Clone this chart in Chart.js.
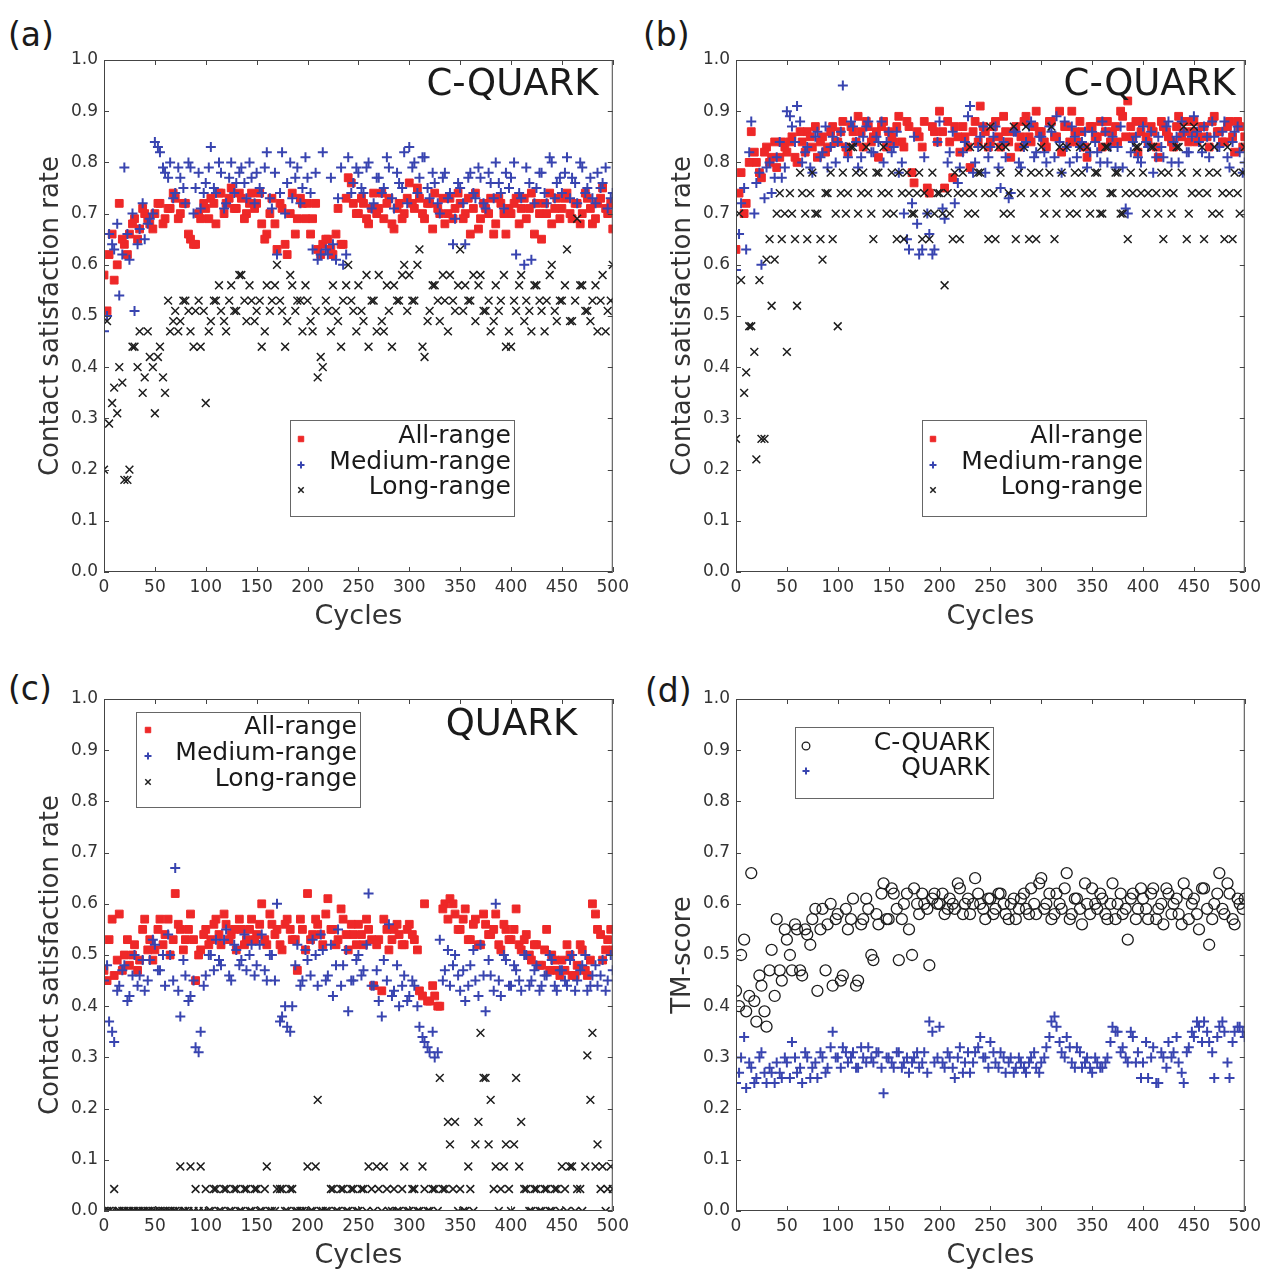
<!DOCTYPE html>
<html>
<head>
<meta charset="utf-8">
<script src="https://cdn.jsdelivr.net/npm/chart.js@4.4.0/dist/chart.umd.min.js"></script>
<style>
  body { margin: 0; background: #fff; width: 1269px; height: 1270px; overflow: hidden; position: relative; font-family: "DejaVu Sans", sans-serif; }
  canvas { position: absolute; }
  .tag { position: absolute; font-size: 33px; line-height: 33px; color: #1a1a1a; }
</style>
</head>
<body>
<div class="tag" style="left:8px;top:18px">(a)</div>
<div class="tag" style="left:643px;top:18px">(b)</div>
<div class="tag" style="left:8px;top:672px">(c)</div>
<div class="tag" style="left:645px;top:674px">(d)</div>
<canvas id="chartA" width="634" height="639" style="left:0;top:0"></canvas>
<canvas id="chartB" width="634" height="639" style="left:632px;top:0"></canvas>
<canvas id="chartC" width="634" height="639" style="left:0;top:639px"></canvas>
<canvas id="chartD" width="634" height="639" style="left:632px;top:639px"></canvas>
<script>
// sampled cycles (x values): main samples and in-between samples
const cycles = [0, 5, 10, 15, 20, 25, 30, 35, 40, 45,
  50, 55, 60, 65, 70, 75, 80, 85, 90, 95,
  100, 105, 110, 115, 120, 125, 130, 135, 140, 145,
  150, 155, 160, 165, 170, 175, 180, 185, 190, 195,
  200, 205, 210, 215, 220, 225, 230, 235, 240, 245,
  250, 255, 260, 265, 270, 275, 280, 285, 290, 295,
  300, 305, 310, 315, 320, 325, 330, 335, 340, 345,
  350, 355, 360, 365, 370, 375, 380, 385, 390, 395,
  400, 405, 410, 415, 420, 425, 430, 435, 440, 445,
  450, 455, 460, 465, 470, 475, 480, 485, 490, 495, 500];
const cyclesMid = [3, 8, 13, 18, 23, 28, 33, 38, 43, 48,
  53, 58, 63, 68, 73, 78, 83, 88, 93, 98,
  103, 108, 113, 118, 123, 128, 133, 138, 143, 148,
  153, 158, 163, 168, 173, 178, 183, 188, 193, 198,
  203, 208, 213, 218, 223, 228, 233, 238, 243, 248,
  253, 258, 263, 268, 273, 278, 283, 288, 293, 298,
  303, 308, 313, 318, 323, 328, 333, 338, 343, 348,
  353, 358, 363, 368, 373, 378, 383, 388, 393, 398,
  403, 408, 413, 418, 423, 428, 433, 438, 443, 448,
  453, 458, 463, 468, 473, 478, 483, 488, 493, 498];

const cycleTicks = [0, 50, 100, 150, 200, 250, 300, 350, 400, 450, 500];
const rateTicks = [0.0, 0.1, 0.2, 0.3, 0.4, 0.5, 0.6, 0.7, 0.8, 0.9, 1.0];

// (a) C-QUARK
const allRangeA = [0.58, 0.62, 0.57, 0.72, 0.64, 0.66, 0.69, 0.67, 0.70, 0.68,
  0.70, 0.72, 0.69, 0.71, 0.73, 0.70, 0.72, 0.65, 0.64, 0.69,
  0.71, 0.73, 0.68, 0.74, 0.72, 0.75, 0.71, 0.73, 0.70, 0.74,
  0.72, 0.68, 0.66, 0.73, 0.63, 0.71, 0.62, 0.74, 0.69, 0.72,
  0.72, 0.69, 0.63, 0.64, 0.65, 0.62, 0.71, 0.64, 0.77, 0.72,
  0.70, 0.72, 0.68, 0.74, 0.71, 0.69, 0.73, 0.67, 0.72, 0.70,
  0.76, 0.71, 0.73, 0.69, 0.72, 0.74, 0.70, 0.68, 0.73, 0.71,
  0.72, 0.70, 0.66, 0.74, 0.69, 0.71, 0.73, 0.68, 0.72, 0.66,
  0.70, 0.73, 0.71, 0.69, 0.74, 0.72, 0.65, 0.70, 0.68, 0.73,
  0.71, 0.74, 0.69, 0.72, 0.70, 0.73, 0.68, 0.72, 0.75, 0.70, 0.67];
const allRangeAMid = [0.51, 0.66, 0.60, 0.65, 0.62, 0.68, 0.65, 0.71, 0.69, 0.67,
  0.72, 0.68, 0.71, 0.74, 0.69, 0.72, 0.66, 0.64, 0.70, 0.72,
  0.69, 0.72, 0.74, 0.70, 0.73, 0.71, 0.74, 0.69, 0.72, 0.71,
  0.74, 0.65, 0.70, 0.68, 0.72, 0.64, 0.70, 0.66, 0.73, 0.69,
  0.66, 0.72, 0.62, 0.65, 0.63, 0.66, 0.64, 0.73, 0.76, 0.70,
  0.73, 0.69, 0.71, 0.70, 0.74, 0.72, 0.68, 0.71, 0.69, 0.73,
  0.72, 0.75, 0.70, 0.72, 0.67, 0.71, 0.73, 0.70, 0.69, 0.74,
  0.69, 0.73, 0.71, 0.67, 0.72, 0.70, 0.66, 0.73, 0.70, 0.71,
  0.72, 0.68, 0.73, 0.71, 0.66, 0.70, 0.72, 0.74, 0.71, 0.69,
  0.73, 0.70, 0.72, 0.68, 0.74, 0.71, 0.69, 0.73, 0.71, 0.72];
const mediumRangeA = [0.47, 0.66, 0.63, 0.54, 0.79, 0.61, 0.51, 0.67, 0.65, 0.69,
  0.84, 0.82, 0.78, 0.80, 0.74, 0.77, 0.72, 0.79, 0.75, 0.71,
  0.76, 0.83, 0.74, 0.78, 0.72, 0.80, 0.76, 0.79, 0.73, 0.77,
  0.78, 0.74, 0.82, 0.71, 0.62, 0.82, 0.76, 0.73, 0.79, 0.75,
  0.77, 0.63, 0.61, 0.82, 0.62, 0.64, 0.73, 0.60, 0.81, 0.76,
  0.78, 0.74, 0.80, 0.72, 0.77, 0.75, 0.79, 0.71, 0.76, 0.82,
  0.83, 0.80, 0.77, 0.81, 0.73, 0.76, 0.70, 0.78, 0.74, 0.69,
  0.75, 0.64, 0.78, 0.73, 0.77, 0.71, 0.76, 0.80, 0.74, 0.78,
  0.77, 0.62, 0.73, 0.79, 0.61, 0.75, 0.78, 0.72, 0.80, 0.76,
  0.74, 0.81, 0.77, 0.72, 0.79, 0.75, 0.73, 0.78, 0.76, 0.71, 0.74];
const mediumRangeAMid = [0.50, 0.64, 0.68, 0.62, 0.66, 0.70, 0.64, 0.72, 0.68, 0.70,
  0.83, 0.79, 0.77, 0.73, 0.79, 0.75, 0.80, 0.70, 0.78, 0.74,
  0.79, 0.75, 0.80, 0.71, 0.77, 0.74, 0.78, 0.76, 0.80, 0.72,
  0.75, 0.79, 0.73, 0.78, 0.74, 0.70, 0.80, 0.77, 0.72, 0.81,
  0.74, 0.78, 0.62, 0.63, 0.77, 0.61, 0.79, 0.62, 0.74, 0.79,
  0.75, 0.79, 0.71, 0.77, 0.74, 0.81, 0.73, 0.78, 0.75, 0.72,
  0.79, 0.74, 0.81, 0.75, 0.78, 0.72, 0.77, 0.73, 0.64, 0.76,
  0.72, 0.77, 0.74, 0.79, 0.72, 0.78, 0.73, 0.76, 0.71, 0.75,
  0.80, 0.74, 0.60, 0.76, 0.72, 0.78, 0.74, 0.81, 0.73, 0.77,
  0.78, 0.73, 0.76, 0.80, 0.74, 0.77, 0.72, 0.75, 0.79, 0.73];
const longRangeA = [0.20, 0.29, 0.36, 0.40, 0.18, 0.20, 0.44, 0.47, 0.38, 0.42,
  0.31, 0.44, 0.35, 0.47, 0.51, 0.49, 0.53, 0.47, 0.51, 0.44,
  0.33, 0.49, 0.53, 0.51, 0.47, 0.56, 0.51, 0.58, 0.49, 0.53,
  0.51, 0.44, 0.56, 0.53, 0.60, 0.51, 0.49, 0.56, 0.53, 0.47,
  0.53, 0.47, 0.38, 0.40, 0.51, 0.56, 0.49, 0.53, 0.60, 0.51,
  0.56, 0.49, 0.44, 0.53, 0.58, 0.47, 0.51, 0.56, 0.53, 0.60,
  0.58, 0.53, 0.63, 0.42, 0.51, 0.56, 0.49, 0.53, 0.58, 0.51,
  0.63, 0.56, 0.53, 0.49, 0.58, 0.51, 0.47, 0.56, 0.53, 0.44,
  0.44, 0.51, 0.58, 0.53, 0.47, 0.56, 0.51, 0.53, 0.60, 0.49,
  0.53, 0.63, 0.49, 0.69, 0.56, 0.51, 0.53, 0.47, 0.58, 0.51, 0.60];
const longRangeAMid = [0.49, 0.33, 0.31, 0.37, 0.18, 0.44, 0.40, 0.35, 0.47, 0.40,
  0.42, 0.38, 0.53, 0.49, 0.47, 0.53, 0.51, 0.44, 0.53, 0.51,
  0.47, 0.53, 0.56, 0.49, 0.53, 0.51, 0.58, 0.53, 0.56, 0.49,
  0.53, 0.47, 0.51, 0.56, 0.53, 0.44, 0.58, 0.51, 0.53, 0.56,
  0.49, 0.51, 0.42, 0.53, 0.47, 0.51, 0.44, 0.56, 0.53, 0.47,
  0.51, 0.58, 0.53, 0.47, 0.49, 0.56, 0.44, 0.53, 0.58, 0.51,
  0.53, 0.60, 0.44, 0.49, 0.56, 0.53, 0.58, 0.47, 0.53, 0.56,
  0.51, 0.53, 0.58, 0.56, 0.51, 0.53, 0.49, 0.51, 0.58, 0.47,
  0.53, 0.56, 0.49, 0.51, 0.56, 0.53, 0.47, 0.58, 0.51, 0.53,
  0.56, 0.49, 0.53, 0.56, 0.51, 0.49, 0.56, 0.53, 0.47, 0.53];

// (b) C-QUARK
const allRangeB = [0.63, 0.78, 0.72, 0.86, 0.80, 0.77, 0.83, 0.81, 0.79, 0.84,
  0.82, 0.85, 0.80, 0.84, 0.86, 0.83, 0.81, 0.85, 0.83, 0.87,
  0.84, 0.88, 0.82, 0.86, 0.89, 0.83, 0.87, 0.85, 0.81, 0.88,
  0.86, 0.84, 0.89, 0.83, 0.87, 0.76, 0.85, 0.88, 0.74, 0.86,
  0.90, 0.75, 0.84, 0.87, 0.82, 0.85, 0.79, 0.88, 0.91, 0.86,
  0.84, 0.88, 0.83, 0.86, 0.81, 0.87, 0.85, 0.89, 0.84, 0.90,
  0.86, 0.83, 0.88, 0.85, 0.82, 0.87, 0.90, 0.84, 0.86, 0.81,
  0.87, 0.85, 0.83, 0.88, 0.86, 0.84, 0.89, 0.92, 0.85, 0.82,
  0.88, 0.84, 0.86, 0.81, 0.87, 0.85, 0.83, 0.89, 0.86, 0.84,
  0.88, 0.85, 0.87, 0.83, 0.89, 0.86, 0.84, 0.88, 0.82, 0.87, 0.85];
const allRangeBMid = [0.74, 0.70, 0.80, 0.82, 0.78, 0.82, 0.80, 0.84, 0.81, 0.83,
  0.84, 0.81, 0.86, 0.82, 0.85, 0.87, 0.84, 0.82, 0.86, 0.84,
  0.86, 0.83, 0.87, 0.84, 0.86, 0.88, 0.84, 0.86, 0.87, 0.83,
  0.85, 0.87, 0.84, 0.88, 0.78, 0.86, 0.83, 0.75, 0.87, 0.84,
  0.86, 0.88, 0.77, 0.85, 0.87, 0.83, 0.86, 0.84, 0.87, 0.83,
  0.87, 0.85, 0.89, 0.84, 0.86, 0.83, 0.88, 0.85, 0.87, 0.86,
  0.84, 0.88, 0.85, 0.90, 0.87, 0.84, 0.86, 0.88, 0.83, 0.87,
  0.85, 0.88, 0.86, 0.84, 0.87, 0.90, 0.85, 0.87, 0.88, 0.86,
  0.85, 0.87, 0.83, 0.88, 0.86, 0.84, 0.87, 0.85, 0.88, 0.86,
  0.84, 0.87, 0.85, 0.88, 0.86, 0.84, 0.87, 0.85, 0.88, 0.83];
const mediumRangeB = [0.59, 0.72, 0.63, 0.88, 0.76, 0.60, 0.79, 0.74, 0.81, 0.77,
  0.90, 0.87, 0.91, 0.80, 0.83, 0.78, 0.86, 0.82, 0.79, 0.85,
  0.84, 0.95, 0.81, 0.87, 0.79, 0.85, 0.88, 0.82, 0.84, 0.80,
  0.86, 0.83, 0.78, 0.70, 0.63, 0.85, 0.62, 0.81, 0.66, 0.63,
  0.88, 0.69, 0.82, 0.72, 0.79, 0.84, 0.91, 0.80, 0.85, 0.78,
  0.83, 0.87, 0.75, 0.81, 0.74, 0.86, 0.79, 0.84, 0.88, 0.82,
  0.85, 0.80, 0.86, 0.89, 0.78, 0.83, 0.87, 0.81, 0.84, 0.79,
  0.86, 0.82, 0.88, 0.80, 0.85, 0.83, 0.79, 0.70, 0.84, 0.81,
  0.87, 0.83, 0.78, 0.85, 0.81, 0.88, 0.84, 0.80, 0.86, 0.82,
  0.89, 0.84, 0.87, 0.81, 0.85, 0.83, 0.88, 0.79, 0.86, 0.82, 0.80];
const mediumRangeBMid = [0.66, 0.75, 0.82, 0.70, 0.78, 0.73, 0.80, 0.77, 0.84, 0.79,
  0.89, 0.84, 0.88, 0.82, 0.79, 0.85, 0.81, 0.87, 0.83, 0.80,
  0.86, 0.83, 0.88, 0.84, 0.81, 0.87, 0.82, 0.85, 0.88, 0.84,
  0.82, 0.86, 0.80, 0.65, 0.72, 0.68, 0.63, 0.70, 0.62, 0.84,
  0.71, 0.80, 0.86, 0.76, 0.82, 0.89, 0.78, 0.83, 0.87, 0.81,
  0.85, 0.79, 0.84, 0.73, 0.86, 0.80, 0.83, 0.87, 0.81, 0.85,
  0.82, 0.87, 0.81, 0.84, 0.88, 0.80, 0.85, 0.83, 0.86, 0.82,
  0.84, 0.80, 0.86, 0.83, 0.79, 0.87, 0.71, 0.82, 0.85, 0.80,
  0.84, 0.86, 0.81, 0.83, 0.87, 0.80, 0.85, 0.88, 0.82, 0.85,
  0.86, 0.82, 0.85, 0.88, 0.83, 0.86, 0.81, 0.84, 0.87, 0.78];
const longRangeB = [0.26, 0.57, 0.39, 0.48, 0.22, 0.26, 0.61, 0.52, 0.70, 0.65,
  0.43, 0.70, 0.52, 0.74, 0.65, 0.78, 0.70, 0.61, 0.74, 0.65,
  0.48, 0.78, 0.74, 0.83, 0.70, 0.78, 0.74, 0.65, 0.78, 0.83,
  0.74, 0.70, 0.78, 0.65, 0.74, 0.70, 0.78, 0.74, 0.65, 0.70,
  0.74, 0.56, 0.70, 0.78, 0.65, 0.74, 0.83, 0.70, 0.78, 0.74,
  0.87, 0.65, 0.78, 0.83, 0.70, 0.65, 0.74, 0.87, 0.78, 0.65,
  0.83, 0.74, 0.87, 0.70, 0.78, 0.83, 0.74, 0.70, 0.78, 0.83,
  0.74, 0.78, 0.70, 0.83, 0.74, 0.78, 0.70, 0.65, 0.74, 0.83,
  0.78, 0.74, 0.83, 0.70, 0.65, 0.78, 0.74, 0.83, 0.87, 0.70,
  0.87, 0.74, 0.65, 0.78, 0.83, 0.70, 0.65, 0.74, 0.78, 0.70, 0.83];
const longRangeBMid = [0.70, 0.35, 0.48, 0.43, 0.57, 0.26, 0.65, 0.61, 0.74, 0.70,
  0.74, 0.65, 0.78, 0.70, 0.74, 0.70, 0.65, 0.74, 0.78, 0.70,
  0.74, 0.70, 0.83, 0.78, 0.74, 0.83, 0.70, 0.78, 0.74, 0.70,
  0.78, 0.65, 0.74, 0.78, 0.70, 0.74, 0.65, 0.70, 0.78, 0.74,
  0.70, 0.74, 0.65, 0.74, 0.78, 0.70, 0.74, 0.78, 0.83, 0.65,
  0.74, 0.83, 0.70, 0.74, 0.87, 0.78, 0.83, 0.65, 0.74, 0.78,
  0.70, 0.78, 0.65, 0.83, 0.74, 0.70, 0.78, 0.83, 0.74, 0.70,
  0.78, 0.70, 0.83, 0.74, 0.78, 0.70, 0.74, 0.78, 0.83, 0.74,
  0.70, 0.83, 0.74, 0.78, 0.74, 0.70, 0.83, 0.78, 0.65, 0.74,
  0.78, 0.83, 0.74, 0.70, 0.78, 0.74, 0.83, 0.65, 0.74, 0.78];

// (c) QUARK
const allRangeC = [0.47, 0.53, 0.46, 0.58, 0.50, 0.48, 0.52, 0.49, 0.57, 0.53,
  0.51, 0.57, 0.54, 0.50, 0.62, 0.55, 0.53, 0.58, 0.45, 0.51,
  0.55, 0.53, 0.57, 0.52, 0.56, 0.54, 0.51, 0.55, 0.53, 0.57,
  0.54, 0.60, 0.52, 0.56, 0.55, 0.51, 0.57, 0.53, 0.47, 0.55,
  0.62, 0.54, 0.56, 0.52, 0.61, 0.55, 0.53, 0.57, 0.51, 0.54,
  0.56, 0.52, 0.55, 0.44, 0.53, 0.57, 0.51, 0.55, 0.54, 0.52,
  0.56, 0.53, 0.43, 0.60, 0.41, 0.42, 0.40, 0.60, 0.61, 0.58,
  0.55, 0.59, 0.53, 0.57, 0.52, 0.56, 0.54, 0.58, 0.51, 0.55,
  0.53, 0.59, 0.51, 0.54, 0.49, 0.52, 0.48, 0.55, 0.50, 0.47,
  0.49, 0.52, 0.46, 0.48, 0.51, 0.46, 0.60, 0.55, 0.49, 0.53, 0.51];
const allRangeCMid = [0.45, 0.57, 0.49, 0.47, 0.53, 0.50, 0.47, 0.55, 0.51, 0.49,
  0.55, 0.52, 0.57, 0.53, 0.56, 0.51, 0.55, 0.53, 0.50, 0.54,
  0.52, 0.56, 0.54, 0.58, 0.53, 0.55, 0.57, 0.52, 0.55, 0.53,
  0.56, 0.53, 0.58, 0.54, 0.52, 0.56, 0.55, 0.53, 0.57, 0.51,
  0.53, 0.57, 0.54, 0.58, 0.55, 0.52, 0.59, 0.54, 0.56, 0.52,
  0.54, 0.57, 0.53, 0.52, 0.43, 0.55, 0.53, 0.56, 0.52, 0.55,
  0.54, 0.51, 0.42, 0.41, 0.44, 0.40, 0.59, 0.57, 0.60, 0.55,
  0.57, 0.53, 0.56, 0.52, 0.58, 0.54, 0.55, 0.52, 0.56, 0.53,
  0.55, 0.52, 0.53, 0.50, 0.52, 0.48, 0.51, 0.47, 0.49, 0.46,
  0.47, 0.50, 0.46, 0.52, 0.47, 0.49, 0.58, 0.54, 0.51, 0.55];
const mediumRangeC = [0.45, 0.37, 0.33, 0.44, 0.48, 0.42, 0.50, 0.46, 0.43, 0.49,
  0.52, 0.47, 0.44, 0.50, 0.67, 0.38, 0.46, 0.42, 0.32, 0.35,
  0.46, 0.50, 0.53, 0.48, 0.55, 0.45, 0.51, 0.49, 0.47, 0.52,
  0.48, 0.54, 0.45, 0.50, 0.60, 0.38, 0.36, 0.40, 0.52, 0.45,
  0.49, 0.53, 0.44, 0.51, 0.46, 0.42, 0.55, 0.48, 0.39, 0.45,
  0.50, 0.47, 0.62, 0.44, 0.41, 0.49, 0.56, 0.43, 0.40, 0.46,
  0.42, 0.44, 0.36, 0.33, 0.31, 0.30, 0.53, 0.47, 0.44, 0.50,
  0.43, 0.41, 0.48, 0.45, 0.52, 0.39, 0.46, 0.60, 0.42, 0.49,
  0.44, 0.47, 0.43, 0.50, 0.45, 0.48, 0.44, 0.46, 0.49, 0.43,
  0.47, 0.44, 0.50, 0.45, 0.48, 0.43, 0.46, 0.44, 0.49, 0.45, 0.47];
const mediumRangeCMid = [0.48, 0.35, 0.43, 0.47, 0.41, 0.46, 0.44, 0.49, 0.45, 0.53,
  0.47, 0.50, 0.54, 0.45, 0.43, 0.49, 0.41, 0.45, 0.31, 0.44,
  0.50, 0.47, 0.49, 0.53, 0.46, 0.52, 0.48, 0.54, 0.50, 0.46,
  0.52, 0.47, 0.50, 0.45, 0.37, 0.40, 0.35, 0.48, 0.44, 0.51,
  0.46, 0.50, 0.54, 0.45, 0.52, 0.48, 0.44, 0.51, 0.45, 0.49,
  0.46, 0.52, 0.44, 0.47, 0.38, 0.45, 0.42, 0.48, 0.44, 0.41,
  0.45, 0.40, 0.34, 0.32, 0.35, 0.31, 0.45, 0.51, 0.48, 0.46,
  0.47, 0.44, 0.51, 0.42, 0.46, 0.49, 0.43, 0.45, 0.50, 0.44,
  0.48, 0.45, 0.50, 0.44, 0.47, 0.43, 0.46, 0.50, 0.44, 0.47,
  0.45, 0.49, 0.43, 0.47, 0.50, 0.44, 0.48, 0.46, 0.43, 0.50];
const longRangeC = [0, 0, 0.043, 0, 0, 0, 0, 0, 0, 0,
  0, 0, 0, 0, 0, 0.087, 0, 0.087, 0.043, 0.087,
  0.043, 0, 0.043, 0, 0.043, 0, 0.043, 0, 0.043, 0,
  0.043, 0, 0.087, 0, 0.043, 0.043, 0, 0.043, 0, 0,
  0.087, 0, 0.217, 0, 0, 0.043, 0, 0.043, 0, 0.043,
  0, 0.043, 0.087, 0, 0.043, 0.087, 0, 0.043, 0, 0.087,
  0, 0.043, 0, 0.043, 0, 0.043, 0.26, 0.043, 0.13, 0.174,
  0.043, 0, 0.043, 0.13, 0.348, 0.26, 0.217, 0.087, 0.043, 0.13,
  0, 0.26, 0.174, 0.043, 0, 0.043, 0, 0.043, 0, 0.043,
  0.087, 0, 0.087, 0.043, 0, 0.304, 0.348, 0.13, 0.087, 0.043, 0.043];
const longRangeCMid = [0, 0, 0, 0, 0, 0, 0, 0, 0, 0,
  0, 0, 0, 0, 0, 0, 0, 0, 0, 0,
  0, 0.043, 0, 0.043, 0, 0.043, 0, 0.043, 0, 0.043,
  0, 0.043, 0, 0, 0.043, 0, 0.043, 0, 0, 0,
  0, 0.087, 0, 0, 0.043, 0, 0.043, 0, 0.043, 0,
  0.043, 0, 0.043, 0.087, 0, 0.043, 0, 0, 0.043, 0,
  0.043, 0, 0.087, 0, 0.043, 0, 0.043, 0.174, 0.043, 0,
  0, 0.087, 0, 0.174, 0.26, 0.13, 0.043, 0, 0.087, 0.043,
  0.13, 0.087, 0.043, 0, 0.043, 0, 0.043, 0, 0.043, 0,
  0.043, 0.087, 0, 0.043, 0.087, 0.217, 0.087, 0.043, 0, 0.087];

// (d) TM-score
const tmCQuark = [0.43, 0.50, 0.39, 0.66, 0.37, 0.44, 0.36, 0.51, 0.57, 0.45,
  0.53, 0.47, 0.55, 0.46, 0.54, 0.57, 0.43, 0.59, 0.56, 0.44,
  0.58, 0.46, 0.55, 0.61, 0.45, 0.57, 0.59, 0.49, 0.56, 0.64,
  0.57, 0.62, 0.49, 0.60, 0.55, 0.63, 0.58, 0.60, 0.48, 0.62,
  0.60, 0.58, 0.61, 0.59, 0.63, 0.60, 0.58, 0.65, 0.60, 0.57,
  0.61, 0.59, 0.62, 0.58, 0.60, 0.57, 0.61, 0.59, 0.63, 0.58,
  0.65, 0.60, 0.57, 0.62, 0.59, 0.66, 0.58, 0.61, 0.56, 0.60,
  0.63, 0.59, 0.61, 0.57, 0.64, 0.60, 0.58, 0.53, 0.62, 0.59,
  0.61, 0.57, 0.63, 0.59, 0.56, 0.62, 0.60, 0.58, 0.64, 0.57,
  0.61, 0.55, 0.63, 0.52, 0.60, 0.66, 0.58, 0.62, 0.56, 0.60, 0.61];
const tmCQuarkMid = [0.40, 0.53, 0.42, 0.41, 0.46, 0.39, 0.47, 0.42, 0.47, 0.55,
  0.50, 0.56, 0.47, 0.55, 0.52, 0.59, 0.55, 0.47, 0.60, 0.57,
  0.45, 0.59, 0.57, 0.44, 0.56, 0.61, 0.50, 0.58, 0.62, 0.57,
  0.63, 0.59, 0.57, 0.62, 0.50, 0.60, 0.62, 0.59, 0.61, 0.60,
  0.62, 0.59, 0.60, 0.64, 0.58, 0.61, 0.60, 0.62, 0.59, 0.61,
  0.58, 0.62, 0.60, 0.57, 0.61, 0.59, 0.62, 0.58, 0.60, 0.64,
  0.59, 0.62, 0.58, 0.60, 0.63, 0.57, 0.61, 0.59, 0.64, 0.58,
  0.60, 0.62, 0.58, 0.60, 0.57, 0.62, 0.59, 0.61, 0.57, 0.63,
  0.59, 0.62, 0.57, 0.60, 0.63, 0.58, 0.61, 0.56, 0.62, 0.60,
  0.58, 0.63, 0.59, 0.57, 0.62, 0.59, 0.64, 0.57, 0.61, 0.59];
const tmQuark = [0.25, 0.30, 0.24, 0.28, 0.26, 0.31, 0.25, 0.27, 0.29, 0.26,
  0.29, 0.33, 0.27, 0.25, 0.30, 0.28, 0.26, 0.30, 0.28, 0.35,
  0.30, 0.32, 0.29, 0.31, 0.28, 0.30, 0.32, 0.29, 0.31, 0.23,
  0.30, 0.28, 0.31, 0.29, 0.27, 0.30, 0.28, 0.31, 0.37, 0.29,
  0.36, 0.28, 0.30, 0.26, 0.32, 0.29, 0.27, 0.31, 0.34, 0.30,
  0.33, 0.29, 0.31, 0.27, 0.30, 0.28, 0.29, 0.27, 0.30, 0.28,
  0.29, 0.32, 0.37, 0.36, 0.31, 0.34, 0.29, 0.32, 0.28, 0.30,
  0.27, 0.29, 0.28, 0.30, 0.36, 0.35, 0.32, 0.29, 0.34, 0.31,
  0.29, 0.26, 0.32, 0.25, 0.30, 0.33, 0.31, 0.29, 0.25, 0.32,
  0.34, 0.36, 0.37, 0.33, 0.26, 0.36, 0.35, 0.26, 0.35, 0.36, 0.34];
const tmQuarkMid = [0.27, 0.34, 0.29, 0.25, 0.30, 0.27, 0.28, 0.25, 0.27, 0.30,
  0.26, 0.30, 0.28, 0.31, 0.26, 0.29, 0.31, 0.27, 0.32, 0.30,
  0.28, 0.31, 0.30, 0.28, 0.32, 0.29, 0.30, 0.31, 0.28, 0.30,
  0.29, 0.31, 0.28, 0.30, 0.29, 0.31, 0.29, 0.27, 0.35, 0.30,
  0.29, 0.31, 0.28, 0.30, 0.27, 0.31, 0.29, 0.32, 0.30, 0.28,
  0.31, 0.28, 0.30, 0.29, 0.27, 0.30, 0.28, 0.29, 0.31, 0.27,
  0.30, 0.34, 0.38, 0.33, 0.30, 0.32, 0.28, 0.31, 0.29, 0.28,
  0.30, 0.28, 0.29, 0.33, 0.35, 0.31, 0.30, 0.35, 0.29, 0.26,
  0.33, 0.30, 0.25, 0.31, 0.28, 0.30, 0.34, 0.27, 0.31, 0.35,
  0.37, 0.33, 0.35, 0.31, 0.34, 0.37, 0.29, 0.33, 0.36, 0.35];

Chart.defaults.font.family = '"DejaVu Sans", sans-serif';
Chart.defaults.color = '#333';

const RED = 'rgb(238, 40, 40)';
const BLUE = 'rgb(56, 68, 176)';
const BLACK = '#1e1e1e';

function points(values, mid) {
  return cycles.map((c, i) => ({ x: c, y: values[i] }))
    .concat(cyclesMid.map((c, i) => ({ x: c, y: mid[i] })));
}

function redSet(label, values, mid) {
  return { label, data: points(values, mid), pointStyle: 'rect', pointRadius: 5.5,
    backgroundColor: RED, borderColor: RED, borderWidth: 1, order: 3, clip: 0 };
}
function blueSet(label, values, mid) {
  return { label, data: points(values, mid), pointStyle: 'cross', pointRadius: 5,
    backgroundColor: BLUE, borderColor: BLUE, borderWidth: 2, order: 2, clip: 0 };
}
function blackSet(label, values, mid) {
  return { label, data: points(values, mid), pointStyle: 'crossRot', pointRadius: 5.5,
    backgroundColor: BLACK, borderColor: BLACK, borderWidth: 1.5, order: 1, clip: 0 };
}
function circleSet(label, values, mid) {
  return { label, data: points(values, mid), pointStyle: 'circle', pointRadius: 5.5,
    backgroundColor: 'rgba(0,0,0,0)', borderColor: BLACK, borderWidth: 1.3, order: 1, clip: 0 };
}

// frame, inward ticks, corner note and legend box
const panelDecor = {
  id: 'panelDecor',
  afterDraw(chart, args, opts) {
    const { ctx, chartArea: a, scales: { x, y } } = chart;
    ctx.save();
    ctx.strokeStyle = '#444';
    ctx.lineWidth = 1;
    ctx.strokeRect(a.left + 0.5, a.top + 0.5, a.width - 1, a.height - 1);
    ctx.beginPath();
    x.ticks.forEach(t => {
      const px = Math.round(x.getPixelForValue(t.value)) + 0.5;
      ctx.moveTo(px, a.bottom); ctx.lineTo(px, a.bottom - 5);
      ctx.moveTo(px, a.top); ctx.lineTo(px, a.top + 5);
    });
    y.ticks.forEach(t => {
      const py = Math.round(y.getPixelForValue(t.value)) + 0.5;
      ctx.moveTo(a.left, py); ctx.lineTo(a.left + 5, py);
      ctx.moveTo(a.right, py); ctx.lineTo(a.right - 5, py);
    });
    ctx.stroke();

    if (opts.note) {
      ctx.fillStyle = '#1a1a1a';
      ctx.font = '37px "DejaVu Sans"';
      ctx.textAlign = 'right';
      ctx.textBaseline = 'alphabetic';
      ctx.fillText(opts.note, x.getPixelForValue(opts.noteX), a.top + opts.noteY);
    }

    const lg = opts.legend;
    const bx = a.left + lg.left, by = a.top + lg.top;
    ctx.fillStyle = '#fff';
    ctx.fillRect(bx, by, lg.width, lg.height);
    ctx.strokeStyle = '#666';
    ctx.strokeRect(bx + 0.5, by + 0.5, lg.width, lg.height);
    chart.data.datasets.forEach((ds, i) => {
      const cy = by + lg.rows[i];
      ctx.fillStyle = ds.backgroundColor;
      ctx.strokeStyle = ds.borderColor;
      ctx.lineWidth = ds.borderWidth;
      Chart.helpers.drawPoint(ctx, { pointStyle: ds.pointStyle, radius: ds.pointRadius * 0.7,
        borderWidth: ds.borderWidth, rotation: 0 }, bx + lg.marker, cy + 3);
      ctx.fillStyle = '#1a1a1a';
      ctx.font = '25px "DejaVu Sans"';
      ctx.textAlign = 'right';
      ctx.textBaseline = 'middle';
      ctx.fillText(ds.label, bx + lg.width - 3, cy);
    });
    ctx.restore();
  }
};

function makePanel(id, datasets, yTitle, decor) {
  return new Chart(document.getElementById(id), {
    type: 'scatter',
    data: { datasets },
    options: {
      responsive: false,
      animation: false,
      events: [],
      layout: { padding: { top: 60, right: 20, left: 0, bottom: 0 } },
      plugins: { legend: { display: false }, tooltip: { enabled: false }, panelDecor: decor },
      scales: {
        x: {
          type: 'linear', min: 0, max: 500,
          grid: { display: false, drawTicks: false }, border: { display: false },
          afterBuildTicks: s => { s.ticks = cycleTicks.map(v => ({ value: v })); },
          afterFit: s => { s.height = 67; },
          ticks: { padding: 5, maxRotation: 0, autoSkip: false, font: { size: 17 }, color: '#333' },
          title: { display: true, text: 'Cycles', font: { size: 27 }, color: '#333', padding: { top: 0, bottom: 6 } }
        },
        y: {
          type: 'linear', min: 0, max: 1,
          grid: { display: false, drawTicks: false }, border: { display: false },
          afterBuildTicks: s => { s.ticks = rateTicks.map(v => ({ value: v })); },
          afterFit: s => { s.width = 104; },
          ticks: { padding: 6, autoSkip: false, font: { size: 17 }, color: '#333', callback: v => v.toFixed(1) },
          title: { display: true, text: yTitle, font: { size: 26 }, color: '#333', padding: { top: 36, bottom: 0 } }
        }
      }
    },
    plugins: [panelDecor]
  });
}

const rangeLegend = { left: 186, top: 360, width: 224, height: 96, marker: 11, rows: [16, 42, 67] };

makePanel('chartA', [
  redSet('All-range', allRangeA, allRangeAMid),
  blueSet('Medium-range', mediumRangeA, mediumRangeAMid),
  blackSet('Long-range', longRangeA, longRangeAMid)
], 'Contact satisfaction rate', { note: 'C-QUARK', noteX: 486, noteY: 35, legend: rangeLegend });

makePanel('chartB', [
  redSet('All-range', allRangeB, allRangeBMid),
  blueSet('Medium-range', mediumRangeB, mediumRangeBMid),
  blackSet('Long-range', longRangeB, longRangeBMid)
], 'Contact satisfaction rate', { note: 'C-QUARK', noteX: 491, noteY: 35, legend: rangeLegend });

makePanel('chartC', [
  redSet('All-range', allRangeC, allRangeCMid),
  blueSet('Medium-range', mediumRangeC, mediumRangeCMid),
  blackSet('Long-range', longRangeC, longRangeCMid)
], 'Contact satisfaction rate', { note: 'QUARK', noteX: 465, noteY: 36,
  legend: { left: 32, top: 13, width: 224, height: 95, marker: 12, rows: [15, 41, 67] } });

makePanel('chartD', [
  circleSet('C-QUARK', tmCQuark, tmCQuarkMid),
  blueSet('QUARK', tmQuark, tmQuarkMid)
], 'TM-score', { legend: { left: 59, top: 28, width: 198, height: 71, marker: 11, rows: [16, 41] } });
</script>
</body>
</html>
